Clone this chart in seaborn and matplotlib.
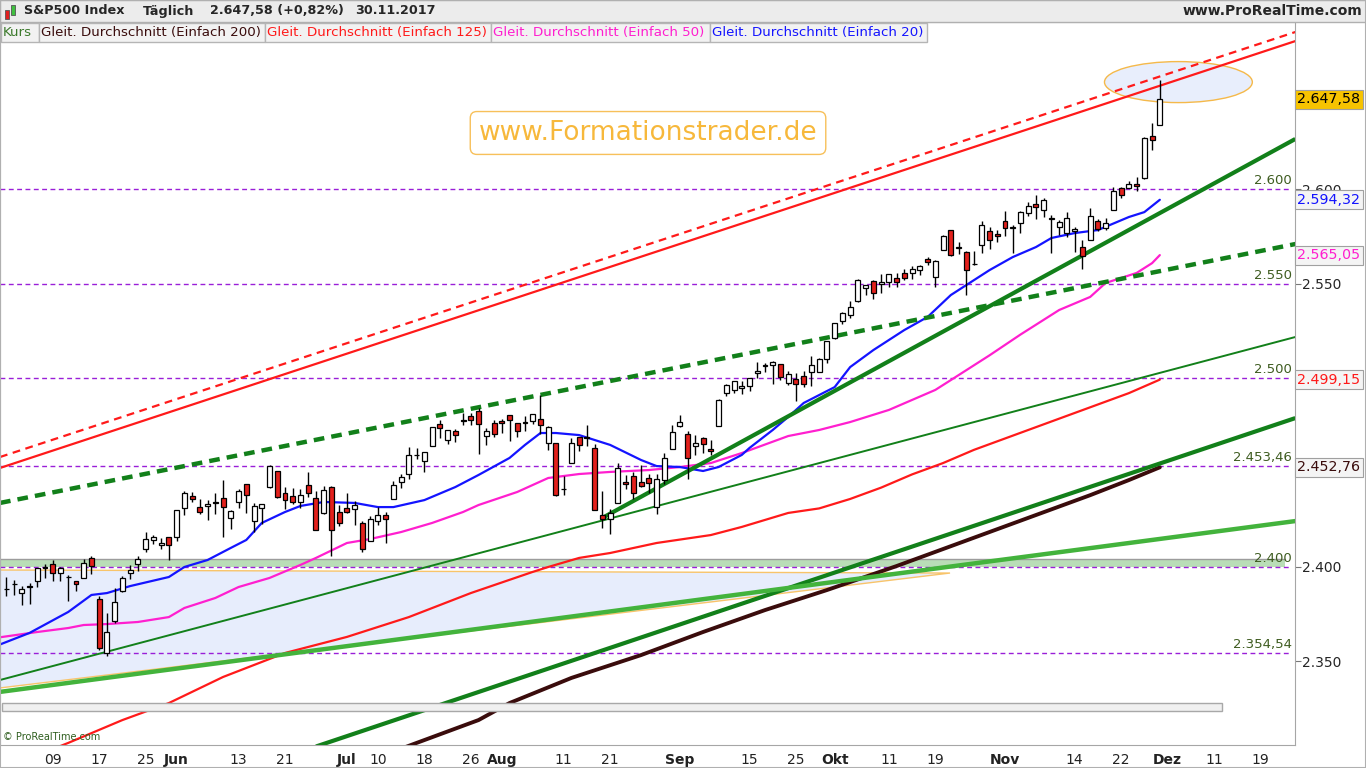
import numpy as np
import pandas as pd
import matplotlib.pyplot as plt
import matplotlib.transforms as mtrans
import seaborn as sns
from matplotlib.patches import Rectangle, Ellipse, Polygon

sns.set_style('white')
plt.rcParams['font.family'] = ['DejaVu Sans']

# trading calendar (US holidays removed)
holidays = pd.to_datetime(['2017-05-29', '2017-07-04', '2017-09-04', '2017-11-23', '2017-12-25'])
days = pd.bdate_range('2017-05-01', '2017-12-29')
days = days[~days.isin(holidays)]

# daily candles S&P500, 01.05.2017 - 30.11.2017
opens = [2388.50, 2391.05, 2386.50, 2389.79, 2392.37, 2399.94, 2401.58, 2396.79, 2394.84, 2392.44,
         2393.98, 2404.55, 2382.95, 2354.69, 2371.37, 2387.21, 2397.04, 2401.41, 2409.54, 2414.50,
         2411.67, 2415.63,  # May
         2415.65, 2431.28, 2437.83, 2431.92, 2432.03, 2434.27, 2436.39, 2425.88, 2434.15, 2443.75,
         2424.14, 2431.24, 2442.55, 2450.66, 2439.31, 2437.40, 2434.65, 2443.32, 2436.34, 2428.70,
         2442.38, 2429.20,  # Jun
         2431.39, 2430.78, 2423.44, 2413.52, 2424.51, 2427.35, 2435.75, 2444.99, 2449.16, 2459.50,
         2455.88, 2463.85, 2475.56, 2467.40, 2472.04, 2477.88, 2479.97, 2482.76, 2469.12, 2475.94,  # Jul
         2477.10, 2480.38, 2476.03, 2476.14, 2477.14, 2478.35, 2465.35, 2465.38, 2441.04, 2454.96,
         2468.66, 2468.63, 2462.95, 2427.64, 2425.50, 2433.75, 2444.88, 2447.91, 2444.72, 2447.35,
         2431.94, 2446.06, 2462.65,  # Aug
         2474.42, 2470.35, 2463.83, 2468.06, 2462.25, 2474.52, 2491.94, 2493.89, 2494.56, 2495.67,
         2502.51, 2506.29, 2506.84, 2507.16, 2497.26, 2499.39, 2501.04, 2503.30, 2503.41, 2510.31,  # Sep
         2521.20, 2530.34, 2533.48, 2540.86, 2547.44, 2551.39, 2549.99, 2550.62, 2552.88, 2555.66,
         2555.57, 2557.17, 2562.87, 2553.39, 2567.56, 2578.08, 2568.66, 2566.52, 2560.08, 2570.26,
         2577.75, 2575.99,  # Oct
         2583.21, 2579.46, 2581.93, 2587.47, 2592.11, 2589.16, 2584.00, 2580.18, 2576.53, 2577.75,
         2569.45, 2572.95, 2582.94, 2579.49, 2589.17, 2600.31, 2600.42, 2602.66, 2605.94, 2627.82,
         2633.93]  # Nov
highs = [2394.49, 2392.93, 2389.82, 2391.43, 2399.29, 2401.36, 2403.87, 2399.74, 2395.72, 2392.44,
         2404.05, 2405.77, 2384.87, 2375.74, 2389.06, 2395.46, 2400.85, 2405.58, 2418.71, 2416.68,
         2415.26, 2415.99,
         2430.06, 2440.23, 2439.55, 2436.21, 2435.28, 2439.27, 2446.20, 2430.38, 2441.49, 2443.75,
         2433.95, 2433.15, 2453.82, 2450.66, 2442.23, 2441.62, 2441.40, 2450.42, 2440.15, 2442.97,
         2442.73, 2432.71,
         2439.17, 2434.90, 2424.28, 2426.92, 2432.00, 2429.30, 2445.76, 2449.32, 2463.54, 2462.82,
         2460.92, 2473.83, 2477.62, 2472.54, 2473.10, 2481.24, 2481.69, 2484.04, 2473.53, 2477.96,
         2478.51, 2480.38, 2476.03, 2480.00, 2480.95, 2490.87, 2474.41, 2465.38, 2448.09, 2468.22,
         2468.90, 2474.93, 2465.02, 2440.27, 2430.58, 2454.77, 2448.91, 2450.39, 2453.96, 2449.12,
         2449.19, 2460.31, 2475.01,
         2480.38, 2471.97, 2469.64, 2468.62, 2467.11, 2488.95, 2496.77, 2498.37, 2498.43, 2500.23,
         2508.32, 2507.84, 2508.85, 2507.16, 2503.47, 2502.54, 2503.51, 2511.75, 2510.81, 2519.44,
         2529.23, 2535.13, 2540.53, 2552.51, 2549.41, 2551.82, 2555.23, 2555.24, 2555.33, 2557.65,
         2559.47, 2559.71, 2564.11, 2562.36, 2575.44, 2578.29, 2572.18, 2567.40, 2567.07, 2582.98,
         2580.03, 2578.29,
         2588.40, 2581.11, 2588.42, 2593.38, 2597.02, 2595.47, 2586.50, 2583.81, 2587.66, 2579.66,
         2572.84, 2590.09, 2583.96, 2584.64, 2601.19, 2600.94, 2604.21, 2606.41, 2627.69, 2634.89,
         2657.74]
lows = [2384.83, 2385.03, 2379.75, 2380.35, 2389.38, 2393.92, 2392.44, 2392.79, 2381.74, 2387.19,
        2393.94, 2396.05, 2356.21, 2352.72, 2370.43, 2386.92, 2393.88, 2397.99, 2408.01, 2412.20,
        2409.43, 2403.59,
        2413.54, 2427.71, 2434.32, 2428.12, 2424.75, 2427.94, 2415.70, 2419.97, 2431.28, 2428.34,
        2418.53, 2422.88, 2441.79, 2436.60, 2430.74, 2433.27, 2431.11, 2437.03, 2419.38, 2428.02,
        2405.70, 2421.65,
        2428.69, 2422.05, 2407.70, 2413.52, 2422.27, 2412.79, 2435.75, 2441.69, 2446.69, 2457.16,
        2450.34, 2463.85, 2468.43, 2465.06, 2466.32, 2474.91, 2474.94, 2459.93, 2464.66, 2468.53,
        2471.14, 2466.48, 2468.85, 2472.08, 2475.88, 2470.32, 2462.08, 2437.75, 2437.85, 2454.96,
        2461.61, 2463.86, 2430.01, 2420.69, 2417.35, 2433.67, 2441.42, 2436.19, 2442.22, 2439.03,
        2428.20, 2443.77, 2462.65,
        2473.85, 2446.55, 2459.20, 2460.29, 2459.40, 2474.52, 2490.37, 2492.14, 2491.35, 2493.16,
        2499.92, 2502.94, 2496.67, 2499.00, 2496.54, 2488.03, 2495.12, 2495.91, 2502.93, 2507.99,
        2520.40, 2528.85, 2531.80, 2540.02, 2543.79, 2541.60, 2544.86, 2547.95, 2548.31, 2552.09,
        2552.64, 2554.69, 2559.67, 2547.92, 2567.56, 2564.33, 2565.58, 2544.00, 2559.80, 2565.94,
        2568.25, 2572.15,
        2574.92, 2566.17, 2576.77, 2585.66, 2584.35, 2585.02, 2566.33, 2575.57, 2574.48, 2566.56,
        2557.45, 2572.95, 2577.62, 2578.24, 2589.17, 2595.23, 2600.42, 2598.87, 2605.44, 2620.50,
        2633.93]
closes = [2388.33, 2391.17, 2388.13, 2389.52, 2399.29, 2399.38, 2396.92, 2399.63, 2394.44, 2390.90,
          2402.32, 2400.67, 2357.03, 2365.72, 2381.73, 2394.02, 2398.42, 2404.39, 2415.07, 2415.82,
          2412.91, 2411.80,
          2430.06, 2439.07, 2436.10, 2429.33, 2433.14, 2433.79, 2431.77, 2429.39, 2440.35, 2437.92,
          2432.46, 2433.15, 2453.46, 2437.03, 2435.61, 2434.50, 2438.30, 2439.07, 2419.38, 2440.69,
          2419.70, 2423.41,
          2429.01, 2432.54, 2409.75, 2425.18, 2427.43, 2425.53, 2443.25, 2447.83, 2459.27, 2459.14,
          2460.61, 2473.83, 2473.45, 2472.54, 2469.91, 2477.13, 2477.83, 2475.42, 2472.10, 2470.30,
          2476.35, 2477.57, 2472.16, 2476.83, 2480.91, 2474.92, 2474.02, 2438.21, 2441.32, 2465.84,
          2464.61, 2468.11, 2430.01, 2425.55, 2428.37, 2452.51, 2444.04, 2438.97, 2443.05, 2444.24,
          2446.30, 2457.59, 2471.65,
          2476.55, 2457.85, 2465.54, 2465.10, 2461.43, 2488.11, 2496.48, 2498.37, 2495.62, 2500.23,
          2503.87, 2506.65, 2508.24, 2500.60, 2502.22, 2496.66, 2496.84, 2507.04, 2510.06, 2519.36,
          2529.12, 2534.58, 2537.74, 2552.07, 2549.33, 2544.73, 2550.64, 2555.24, 2550.93, 2553.17,
          2557.64, 2559.36, 2561.26, 2562.10, 2575.21, 2564.98, 2569.13, 2557.15, 2560.40, 2581.07,
          2572.83, 2575.26,
          2579.36, 2579.85, 2587.84, 2591.13, 2590.64, 2594.38, 2584.62, 2582.30, 2584.84, 2578.87,
          2564.62, 2585.64, 2578.85, 2582.14, 2599.03, 2597.08, 2602.42, 2601.42, 2627.04, 2626.07,
          2647.58]

# moving averages (trading-day index, value)
ma20_day = [-1, 3, 8, 11, 13, 16, 21, 23, 26, 29, 31, 33, 36, 38, 41, 45, 48, 50, 54, 58, 61, 65,
            67, 69, 71, 74, 78, 82, 84, 87, 90, 92, 95, 96, 99, 101, 103, 107, 109, 112, 116, 119,
            122, 127, 130, 133, 135, 138, 141, 145, 147, 149]
ma20_val = [2358.7, 2365.1, 2376.2, 2385.2, 2386.2, 2389.9, 2394.7, 2400.0, 2403.7, 2410.1, 2414.3,
            2423.3, 2429.1, 2432.3, 2434.4, 2433.9, 2431.7, 2431.7, 2435.4, 2442.3, 2448.7, 2457.7,
            2464.6, 2470.9, 2470.9, 2469.8, 2464.6, 2456.6, 2453.4, 2452.9, 2450.8, 2452.9, 2459.3,
            2463.0, 2472.5, 2479.4, 2486.8, 2495.2, 2505.8, 2514.8, 2525.4, 2532.3, 2543.9, 2557.1,
            2564.0, 2569.3, 2574.1, 2576.7, 2578.3, 2585.2, 2587.8, 2594.32]
ma50_day = [-1, 4, 8, 10, 13, 17, 21, 23, 27, 30, 34, 38, 40, 44, 47, 51, 55, 59, 61, 66, 70, 74,
            78, 83, 87, 91, 95, 101, 105, 109, 114, 120, 122, 127, 131, 136, 140, 142, 146, 148, 149]
ma50_val = [2362.7, 2365.6, 2367.7, 2369.3, 2369.8, 2370.9, 2373.5, 2378.3, 2383.6, 2389.4, 2394.2,
            2401.1, 2404.8, 2412.7, 2414.8, 2418.5, 2423.3, 2429.1, 2432.8, 2439.7, 2447.1, 2449.2,
            2450.3, 2451.3, 2452.9, 2455.0, 2460.3, 2469.3, 2472.5, 2476.7, 2483.1, 2493.7, 2498.9,
            2512.0, 2523.0, 2536.0, 2542.9, 2550.3, 2555.6, 2560.8, 2565.05]
ma125_day = [0, 8, 15, 21, 28, 36, 44, 52, 60, 68, 70, 74, 78, 84, 91, 95, 101, 105, 109, 113, 117,
             121, 125, 129, 133, 137, 141, 145, 149]
ma125_val = [2294.0, 2306.9, 2319.0, 2328.0, 2341.8, 2354.5, 2363.0, 2373.5, 2386.2, 2397.4, 2400.0,
             2404.8, 2407.4, 2412.7, 2416.9, 2421.2, 2428.6, 2431.0, 2436.0, 2442.0, 2449.0, 2455.0,
             2462.0, 2468.0, 2474.0, 2480.0, 2486.0, 2492.0, 2499.15]
ma200_day = [45, 53, 61, 65, 73, 82, 90, 98, 106, 115, 122, 128, 134, 140, 145, 149]
ma200_val = [2294.7, 2306.9, 2319.0, 2328.0, 2341.3, 2353.4, 2365.6, 2377.2, 2387.8, 2400.5, 2411.0,
             2420.0, 2429.0, 2438.0, 2446.0, 2452.76]

# drawn trend lines: (day0, price0, day1, price1)
red_line = [-0.81, 2452.4, 166.5, 2678.3]
red_dash = [-0.81, 2458.2, 166.5, 2683.1]
green_dash = [-0.81, 2433.9, 166.5, 2570.9]
green_steep = [76.96, 2425.9, 166.5, 2626.5]
green_thin = [-0.81, 2340.2, 166.5, 2521.7]
green_low = [40.0, 2305.0, 166.5, 2478.8]
light_green = [-0.81, 2333.9, 166.5, 2424.3]
triangle = [(-0.81, 2398.4), (121.9, 2396.8), (-0.81, 2336.0)]

levels = [2600, 2550, 2500, 2453.46, 2400, 2354.54]
level_labels = ['2.600', '2.550', '2.500', '2.453,46', '2.400', '2.354,54']

tick_dates = ['2017-05-09', '2017-05-17', '2017-05-25', '2017-06-01', '2017-06-13', '2017-06-21',
              '2017-07-03', '2017-07-10', '2017-07-18', '2017-07-26', '2017-08-01', '2017-08-11',
              '2017-08-21', '2017-09-01', '2017-09-15', '2017-09-25', '2017-10-02', '2017-10-11',
              '2017-10-19', '2017-11-01', '2017-11-14', '2017-11-22', '2017-12-01', '2017-12-11',
              '2017-12-19']
tick_labels = ['09', '17', '25', 'Jun', '13', '21', 'Jul', '10', '18', '26', 'Aug', '11', '21',
               'Sep', '15', '25', 'Okt', '11', '19', 'Nov', '14', '22', 'Dez', '11', '19']
months = ['Jun', 'Jul', 'Aug', 'Sep', 'Okt', 'Nov', 'Dez']


def de(v, d=2):
    s = f'{v:,.{d}f}'
    return s.replace(',', 'X').replace('.', ',').replace('X', '.')


W, H = 1366, 768
fig = plt.figure(figsize=(W / 100, H / 100), dpi=100)
fx = lambda px: px / W
fy = lambda py: 1 - py / H

ax = fig.add_axes([0, fy(745), fx(1295), (745 - 22) / H])
ax.set_xlim(-0.814, 166.46)
ax.set_ylim(2305.8, 2688.4)

# background zones
ax.axhspan(2400, 2404.1, xmax=0.992, color='#b9ddb7', zorder=0.8, lw=0)
ax.axhline(2404.1, xmax=0.992, color='#9c9c9c', lw=1, zorder=0.9)
ax.add_patch(Polygon(triangle, closed=True, fc='#e7edfc', ec='#f8c46a', lw=1, zorder=0.7))
ax.add_patch(Ellipse((151.4, 2656.6), 19.1, 21.7, fc='#e8eefc', ec='#f5b94a', lw=1, zorder=0.7))

for lv in levels:
    ax.axhline(lv, xmax=0.996, color='#9a1fd8', lw=1, ls=(0, (3.5, 2.5)), zorder=1.5)
trans = mtrans.blended_transform_factory(ax.transAxes, ax.transData)
for lv, lab in zip(levels, level_labels):
    ax.text(0.9975, lv + 1.0, lab, transform=trans, ha='right', va='bottom',
            color='#3e5c20', fontsize=9.5, zorder=2)

# moving averages
sns.lineplot(x=ma200_day, y=ma200_val, ax=ax, color='#3a0c0c', lw=2.8, estimator=None, sort=False, zorder=2)
sns.lineplot(x=ma125_day, y=ma125_val, ax=ax, color='#ff1a1a', lw=1.6, estimator=None, sort=False, zorder=2)
sns.lineplot(x=ma50_day, y=ma50_val, ax=ax, color='#ff1fcf', lw=1.6, estimator=None, sort=False, zorder=2)
sns.lineplot(x=ma20_day, y=ma20_val, ax=ax, color='#1414ff', lw=1.6, estimator=None, sort=False, zorder=2)

# trend lines
def seg(l, **kw):
    ax.plot([l[0], l[2]], [l[1], l[3]], solid_capstyle='butt', **kw)

seg(red_line, color='#ff1a1a', lw=1.6, zorder=2.5)
seg(red_dash, color='#ff1a1a', lw=1.6, ls=(0, (3.5, 2.5)), zorder=2.5)
seg(green_dash, color='#12801a', lw=3.2, ls=(0, (2.4, 1.6)), zorder=2.5)
seg(green_steep, color='#12801a', lw=3.0, zorder=2.5)
seg(green_thin, color='#12801a', lw=1.4, zorder=2.5)
seg(green_low, color='#12801a', lw=3.0, zorder=2.5)
seg(light_green, color='#43b33c', lw=3.2, zorder=2.5)

# candles
xs = np.arange(len(closes))
o, h, l, c = map(np.array, (opens, highs, lows, closes))
up = c >= o
ax.vlines(xs, l, h, color='black', lw=1, zorder=4)
ax.bar(xs, np.maximum(np.abs(c - o), 0.05), bottom=np.minimum(o, c), width=0.64,
       color=np.where(up, 'white', '#e3211c'), edgecolor='black', linewidth=0.9, zorder=5)

# watermark
ax.text(0.5004, 0.8465, 'www.Formationstrader.de', transform=ax.transAxes, ha='center', va='center',
        fontsize=19, color='#f7b83b', zorder=6,
        bbox=dict(boxstyle='round,pad=0.32,rounding_size=0.25', fc='white', ec='#f7c05a', lw=1))

# scroll bar + copyright
ax.add_patch(Rectangle((0.0015, 0.047), 0.942, 0.011, transform=ax.transAxes,
                       fc='#f0f0f0', ec='#a8a8a8', lw=1, zorder=6))
ax.text(0.002, 0.011, '\u00a9 ProRealTime.com', transform=ax.transAxes, fontsize=7,
        color='#2f5e1f', ha='left', va='center', zorder=6)

# axes styling
for sp in ax.spines.values():
    sp.set_color('#a6a6a6')
ax.yaxis.tick_right()
ax.set_yticks([2350, 2400, 2550, 2600, 2650])
ax.set_yticklabels([de(v, 0) for v in [2350, 2400, 2550, 2600, 2650]])
ax.tick_params(axis='y', length=4, width=0.8, color='#777777', labelsize=10, pad=1)
tick_pos = days.get_indexer(pd.to_datetime(tick_dates))
ax.set_xticks(tick_pos)
ax.set_xticklabels(tick_labels)
ax.tick_params(axis='x', length=4, width=0.8, color='#a0a0a0', labelsize=10, pad=1.5,
               labelcolor='#222222')
for t in ax.get_xticklabels():
    if t.get_text() in months:
        t.set_fontweight('bold')
ax.set_xlabel('')
ax.set_ylabel('')
ax.grid(False)

# right side value tags
tags = [(closes[-1], 'black', '#f7c300'), (ma20_val[-1], '#1414ff', '#f4f4f4'),
        (ma50_val[-1], '#ff1fcf', '#f4f4f4'), (ma125_val[-1], '#ff1a1a', '#f4f4f4'),
        (ma200_val[-1], '#3a0c0c', '#f4f4f4')]
for v, tc, fc in tags:
    ax.text(1.0018, v, de(v), transform=trans, ha='left', va='center', fontsize=10.3, color=tc,
            clip_on=False, zorder=10,
            bbox=dict(boxstyle='square,pad=0.17', fc=fc, ec='#a0a0a0', lw=0.8))

# header bar
fig.patches.append(Rectangle((0, fy(22)), 1, 22 / H, transform=fig.transFigure,
                             fc='#ececec', ec='#b0b0b0', lw=1, zorder=1))
fig.patches.append(Rectangle((fx(5), fy(19)), fx(4), 9 / H, transform=fig.transFigure,
                             fc='#e02020', ec='#555555', lw=0.6, zorder=2))
fig.patches.append(Rectangle((fx(11), fy(15)), fx(4), 10 / H, transform=fig.transFigure,
                             fc='#40c040', ec='#555555', lw=0.6, zorder=2))
for px, s in [(24, 'S&P500 Index'), (143, 'T\u00e4glich'), (210, '2.647,58 (+0,82%)'),
              (355, '30.11.2017')]:
    fig.text(fx(px), fy(11), s, fontsize=9.2, fontweight='bold', va='center', ha='left')
fig.text(fx(1362), fy(11), 'www.ProRealTime.com', fontsize=10, fontweight='bold',
         va='center', ha='right')

# legend boxes
legend = [(0, 38, 'Kurs', '#3c7a2c'),
          (38, 264, 'Gleit. Durchschnitt (Einfach 200)', '#3a0c0c'),
          (264, 490, 'Gleit. Durchschnitt (Einfach 125)', '#ff1a1a'),
          (490, 709, 'Gleit. Durchschnitt (Einfach 50)', '#ff1fcf'),
          (709, 926, 'Gleit. Durchschnitt (Einfach 20)', '#1414ff')]
for x0, x1, s, col in legend:
    fig.patches.append(Rectangle((fx(x0 + 1), fy(42)), fx(x1 - x0), 19 / H, transform=fig.transFigure,
                                 fc='#f2f2f2', ec='#b5b5b5', lw=1, zorder=1))
    fig.text(fx(x0 + 3), fy(32.5), s, fontsize=9.6, color=col, va='center', ha='left')

fig.patches.append(Rectangle((0, 0), 1, 1, transform=fig.transFigure, fill=False,
                             ec='#b0b0b0', lw=1.5, zorder=1))

fig.savefig('out.png', dpi=100, facecolor='white')
